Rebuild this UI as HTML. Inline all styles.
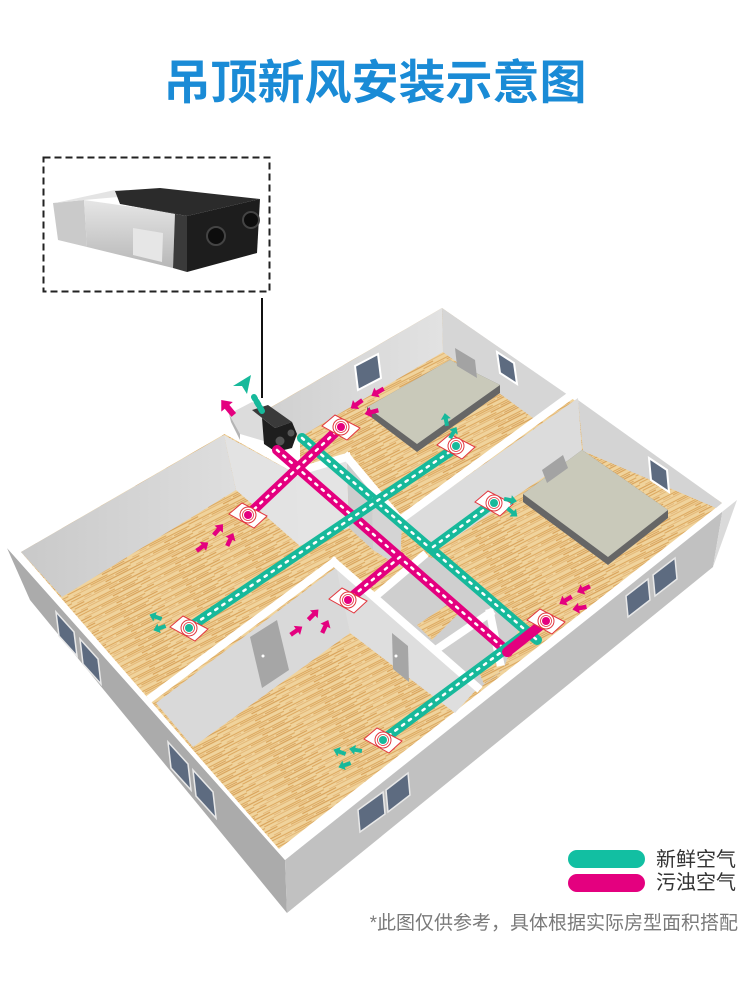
<!DOCTYPE html>
<html><head><meta charset="utf-8"><style>
html,body{margin:0;padding:0;background:#fff;}
svg{display:block;}
text{font-family:"Liberation Sans","Noto Sans CJK SC",sans-serif;}
</style></head><body>
<svg width="750" height="982" viewBox="0 0 750 982" xmlns="http://www.w3.org/2000/svg">
<defs>
<pattern id="wood" width="70" height="8" patternUnits="userSpaceOnUse" patternTransform="rotate(-27)">
<rect width="70" height="8" fill="#f0d39c"/>
<path d="M0 0.8H45" stroke="#d99f52" stroke-width="0.9"/>
<path d="M25 2.6H70" stroke="#dcaa62" stroke-width="1.1"/>
<path d="M5 4.4H50" stroke="#e3b573" stroke-width="0.9"/>
<path d="M40 6.2H70 M0 6.2H12" stroke="#d49a4e" stroke-width="1"/>
<path d="M52 4.4H66" stroke="#cf9247" stroke-width="0.7"/>
<path d="M14 2.6H22" stroke="#e0b070" stroke-width="0.7"/>
</pattern>
<linearGradient id="wallA" x1="0" y1="0" x2="1" y2="0"><stop offset="0" stop-color="#c9c9c9"/><stop offset="1" stop-color="#dedede"/></linearGradient>
<linearGradient id="wallC" x1="0" y1="0" x2="1" y2="0"><stop offset="0" stop-color="#cfcfcf"/><stop offset="1" stop-color="#e2e2e2"/></linearGradient>
<linearGradient id="silver" x1="0" y1="0" x2="0" y2="1"><stop offset="0" stop-color="#e6e6e6"/><stop offset="1" stop-color="#b7b7b7"/></linearGradient>
<g id="diff">
<polygon points="-19,-1 -6,-12 19,1 6,13" fill="#fff" stroke="#e2373f" stroke-width="1"/>
<circle r="8" fill="#fff" stroke="#e2373f" stroke-width="1"/>
<circle r="5.5" fill="none" stroke="#e2373f" stroke-width="0.8"/>
</g>
<path id="arr" d="M-6,-2 L1,-2 L1,-5 L7,0 L1,5 L1,2 L-6,2 Z"/>
</defs>

<!-- Title -->
<text x="375" y="99" text-anchor="middle" font-size="47" font-weight="bold" fill="#1a8bd6">吊顶新风安装示意图</text>

<!-- Product box -->
<rect x="43.5" y="157.5" width="226" height="134" fill="none" stroke="#222" stroke-width="2" stroke-dasharray="7 4"/>
<line x1="262" y1="298" x2="262" y2="398" stroke="#111" stroke-width="2"/>
<polygon points="53,203 84,200 87,247 58,240" fill="#cacaca"/>
<polygon points="84,200 175,213 173,268 87,247" fill="url(#silver)"/>
<polygon points="55,203 115,190 140,195 84,200" fill="#e4e4e4"/>
<polygon points="115,191 160,188 260,199 187,216 120,204" fill="#2b2b2b"/>
<polygon points="120,204 187,216 187,272 173,268 175,213" fill="#3a3a3a"/>
<polygon points="187,216 260,199 257,253 187,272" fill="#1d1d1d"/>
<polygon points="133,228 163,233 162,262 133,255" fill="#e6e6e6"/>
<circle cx="216" cy="236" r="9" fill="#0d0d0d" stroke="#444" stroke-width="2"/>
<circle cx="251" cy="220" r="8" fill="#0d0d0d" stroke="#444" stroke-width="2"/>

<!-- Exterior faces -->
<polygon points="7,548 285,860 287,913 30,600" fill="#ababab"/>
<polygon points="285,860 724,502 713,567 287,913" fill="#c1c1c1"/>
<polygon points="724,502 737,500 713,567" fill="#dadada"/>
<g fill="#5d6b80" stroke="#e8e8e8" stroke-width="1.5">
<polygon points="56,612 74,632 77,656 59,636"/>
<polygon points="80,639 98,659 101,684 83,664"/>
<polygon points="168,742 188,764 191,790 171,768"/>
<polygon points="193,770 213,792 216,818 196,796"/>
<polygon points="626,596 648,579 650,600 628,617"/>
<polygon points="653,575 675,558 677,579 655,596"/>
<polygon points="358,810 383,792 385,814 360,832"/>
<polygon points="386,790 408,773 410,795 388,812"/>
</g>

<!-- Wall tops outline -->
<polygon points="7,548 442,297 737,500 285,860" fill="#fff"/>
<!-- floor -->
<polygon points="21,552 442,308 722,503 279,849" fill="url(#wood)"/>

<!-- Room A back wall & partition face -->
<polygon points="21,552 224,435 236,490 62,597" fill="url(#wallA)"/>
<polygon points="224,435 298,475 300,546 236,490" fill="#e3e3e3"/>
<!-- Bedroom C back walls -->
<polygon points="258,415 442,308 443,352 300,437" fill="url(#wallC)"/>
<polygon points="442,308 568,395 533,418 443,352" fill="#d6d6d6"/>
<!-- Bedroom D walls -->
<polygon points="578,400 722,503 716,508 583,451" fill="#d4d4d4"/>
<polygon points="578,398 402,522 440,548 582,451" fill="#dcdcdc"/>
<!-- hall walls -->
<polygon points="296,476 347,461 349,528 299,546" fill="#e4e4e4"/>
<polygon points="347,461 372,490 373,550 349,528" fill="#cdcdcd"/>
<polygon points="372,500 402,522 400,567 373,550" fill="#d4d4d4"/>
<polygon points="300,546 349,528 373,550 345,565" fill="url(#wood)"/>
<!-- B back wall face -->
<polygon points="156,703 338,566 350,633 193,747" fill="#d9d9d9"/>
<polygon points="250,637 277,620 289,670 262,688" fill="#a6a6a6"/>
<circle cx="263" cy="656" r="1.5" fill="#fff"/>
<!-- B right wall face -->
<polygon points="336,566 476,690 455,713 350,633" fill="#dedede"/>
<polygon points="392,633 408,646 409,682 393,669" fill="#a6a6a6"/>
<circle cx="396" cy="656" r="1.5" fill="#fff"/>
<!-- bathroom area -->
<polygon points="377,596 423,556 445,560 520,625 503,670 477,690 440,650" fill="#cfcfcf"/>
<polygon points="417,625 447,605 460,612 432,640" fill="url(#wood)"/>
<polygon points="478,670 500,655 505,668 484,684" fill="url(#wood)"/>

<!-- partition top bands -->
<g stroke="#fff" stroke-width="8" stroke-linecap="square" fill="none">
<line x1="222" y1="428" x2="299" y2="471"/>
<line x1="293" y1="473" x2="347" y2="457"/>
<line x1="347" y1="457" x2="400" y2="520"/>
<line x1="574" y1="393" x2="400" y2="520"/>
<line x1="152" y1="697" x2="334" y2="562"/>
<line x1="334" y1="562" x2="477" y2="687"/>
<line x1="377" y1="595" x2="423" y2="556"/>
<line x1="440" y1="647" x2="490" y2="613"/>
<line x1="490" y1="613" x2="500" y2="662"/>
</g>
<polygon points="224,428 262,408 300,440 300,470" fill="#fff"/>

<!-- Beds -->
<polygon points="367,407 450,360 500,385 500,393 417,452 367,414" fill="#666"/>
<polygon points="367,407 450,360 500,385 417,444" fill="#c9c9ba"/>
<polygon points="455,348 475,360 477,378 457,366" fill="#a3a3a3"/>
<polygon points="523,494 582,450 668,510 668,518 608,565 523,502" fill="#666"/>
<polygon points="523,494 582,450 668,510 608,557" fill="#c9c9ba"/>
<polygon points="542,470 563,455 568,468 547,483" fill="#a3a3a3"/>
<g fill="#5d6b80" stroke="#fff" stroke-width="2">
<polygon points="355,366 378,354 381,378 358,390"/>
<polygon points="497,352 514,363 517,384 500,373"/>
<polygon points="649,458 667,470 669,492 651,480"/>
</g>

<!-- Unit -->
<polygon points="229,414 252,402 266,410 264,441 240,434" fill="#dcdcdc"/>
<polygon points="229,414 240,434 240,440 231,422" fill="#b5b5b5"/>
<polygon points="252,410 268,405 292,422 275,428" fill="#3a3a3a"/>
<polygon points="262,418 275,428 292,422 297,434 292,448 276,452 264,444" fill="#1e1e1e"/>
<circle cx="280" cy="441" r="4.5" fill="#555"/>
<circle cx="291" cy="433" r="3.5" fill="#555"/>

<!-- Ducts -->
<g fill="none" stroke-linecap="round">
<line x1="302" y1="438" x2="537" y2="640" stroke="#17b99b" stroke-width="10"/>
<line x1="302" y1="438" x2="537" y2="640" stroke="#fff" stroke-width="2.5" stroke-dasharray="2.5 6"/>
<line x1="277" y1="450" x2="508" y2="652" stroke="#e4007f" stroke-width="10"/>
<line x1="277" y1="450" x2="508" y2="652" stroke="#fff" stroke-width="2.5" stroke-dasharray="2.5 6"/>
<line x1="457" y1="447" x2="190" y2="627" stroke="#17b99b" stroke-width="10"/>
<line x1="457" y1="447" x2="190" y2="627" stroke="#fff" stroke-width="2.5" stroke-dasharray="2.5 6"/>
<line x1="433" y1="547" x2="493" y2="503" stroke="#17b99b" stroke-width="10"/>
<line x1="433" y1="547" x2="493" y2="503" stroke="#fff" stroke-width="2.5" stroke-dasharray="2.5 6"/>
<line x1="248" y1="515" x2="341" y2="427" stroke="#e4007f" stroke-width="10"/>
<line x1="248" y1="515" x2="341" y2="427" stroke="#fff" stroke-width="2.5" stroke-dasharray="2.5 6"/>
<line x1="400" y1="557" x2="348" y2="600" stroke="#e4007f" stroke-width="10"/>
<line x1="400" y1="557" x2="348" y2="600" stroke="#fff" stroke-width="2.5" stroke-dasharray="2.5 6"/>
<line x1="527" y1="633" x2="384" y2="739" stroke="#17b99b" stroke-width="10"/>
<line x1="527" y1="633" x2="384" y2="739" stroke="#fff" stroke-width="2.5" stroke-dasharray="2.5 6"/>
<line x1="507" y1="652" x2="546" y2="621" stroke="#e4007f" stroke-width="10"/>
<line x1="262" y1="411" x2="254" y2="397" stroke="#17b99b" stroke-width="6" stroke-dasharray="4 3"/>
</g>

<!-- Diffusers -->
<use href="#diff" x="341" y="427"/>
<use href="#diff" x="456" y="446"/>
<use href="#diff" x="248" y="515"/>
<use href="#diff" x="189" y="628"/>
<use href="#diff" x="494" y="503"/>
<use href="#diff" x="348" y="600"/>
<use href="#diff" x="546" y="621"/>
<use href="#diff" x="383" y="740"/>
<g fill="#e4007f">
<circle cx="341" cy="427" r="4"/><circle cx="248" cy="515" r="4"/><circle cx="348" cy="600" r="4"/><circle cx="546" cy="621" r="4"/>
</g>
<g fill="#17b99b">
<circle cx="456" cy="446" r="4"/><circle cx="189" cy="628" r="4"/><circle cx="494" cy="503" r="4"/><circle cx="383" cy="740" r="4"/>
</g>

<!-- Air arrows magenta -->
<g fill="#e4007f">
<use href="#arr" transform="translate(202,547) rotate(-35) scale(1.1)"/>
<use href="#arr" transform="translate(218,530) rotate(-50) scale(1.1)"/>
<use href="#arr" transform="translate(230,540) rotate(-65) scale(1.1)"/>
<use href="#arr" transform="translate(357,404) rotate(145) scale(1.1)"/>
<use href="#arr" transform="translate(378,392) rotate(150) scale(1.1)"/>
<use href="#arr" transform="translate(372,412) rotate(165) scale(1.1)"/>
<use href="#arr" transform="translate(296,631) rotate(-35) scale(1.1)"/>
<use href="#arr" transform="translate(313,615) rotate(-45) scale(1.1)"/>
<use href="#arr" transform="translate(325,627) rotate(-65) scale(1.1)"/>
<use href="#arr" transform="translate(566,600) rotate(150) scale(1.1)"/>
<use href="#arr" transform="translate(584,589) rotate(155) scale(1.1)"/>
<use href="#arr" transform="translate(580,608) rotate(170) scale(1.1)"/>
<use href="#arr" transform="translate(228,408) rotate(-130) scale(1.5)"/>
</g>
<!-- Air arrows teal -->
<g fill="#17b99b">
<use href="#arr" transform="translate(446,420) rotate(-100)"/>
<use href="#arr" transform="translate(453,433) rotate(-60)"/>
<use href="#arr" transform="translate(510,500) rotate(10)"/>
<use href="#arr" transform="translate(512,512) rotate(40)"/>
<use href="#arr" transform="translate(156,617) rotate(200)"/>
<use href="#arr" transform="translate(160,628) rotate(160)"/>
<use href="#arr" transform="translate(340,752) rotate(200)"/>
<use href="#arr" transform="translate(356,750) rotate(190)"/>
<use href="#arr" transform="translate(345,765) rotate(160)"/>
<polygon points="233,386 251,375 247,394 242,386"/>
</g>

<!-- Legend -->
<rect x="568" y="850" width="77" height="18" rx="9" fill="#12bfa2"/>
<rect x="568" y="874" width="77" height="18" rx="9" fill="#e4007f"/>
<text x="656" y="866" font-size="20" fill="#333">新鲜空气</text>
<text x="656" y="889" font-size="20" fill="#333">污浊空气</text>
<text x="738" y="929" text-anchor="end" font-size="19" fill="#7a7a7a">*此图仅供参考，具体根据实际房型面积搭配</text>
</svg>
</body></html>
